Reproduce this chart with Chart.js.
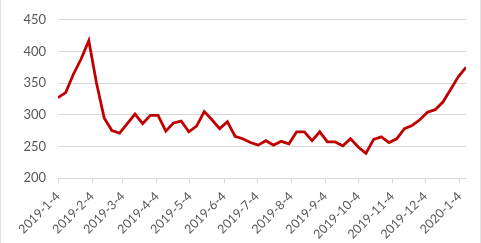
<!DOCTYPE html>
<html>
<head>
<meta charset="utf-8">
<script src="https://cdn.jsdelivr.net/npm/chart.js@4.4.1/dist/chart.umd.min.js"></script>
<style>
  html, body { margin: 0; padding: 0; background: #ffffff; }
  #wrap { position: relative; width: 481px; height: 243px; box-sizing: border-box; border-left: 1px solid #e3e3e3; border-right: 1px solid #e3e3e3; }
  canvas { display: block; }
</style>
</head>
<body>
<div id="wrap"><canvas id="c" width="479" height="243"></canvas></div>
<script>
// Weekly observation dates (Fridays)
const weekDates = [
  "2019-01-04","2019-01-11","2019-01-18","2019-01-25","2019-02-01","2019-02-08","2019-02-15","2019-02-22",
  "2019-03-01","2019-03-08","2019-03-15","2019-03-22","2019-03-29","2019-04-05","2019-04-12","2019-04-19",
  "2019-04-26","2019-05-03","2019-05-10","2019-05-17","2019-05-24","2019-05-31","2019-06-07","2019-06-14",
  "2019-06-21","2019-06-28","2019-07-05","2019-07-12","2019-07-19","2019-07-26","2019-08-02","2019-08-09",
  "2019-08-16","2019-08-23","2019-08-30","2019-09-06","2019-09-13","2019-09-20","2019-09-27","2019-10-04",
  "2019-10-11","2019-10-18","2019-10-25","2019-11-01","2019-11-08","2019-11-15","2019-11-22","2019-11-29",
  "2019-12-06","2019-12-13","2019-12-20","2019-12-27","2020-01-03","2020-01-10"
];
const values = [
  327, 335, 364, 388, 417, 350, 295, 275, 271, 286, 301, 286, 299, 299, 274, 287,
  290, 273, 282, 305, 292, 278, 289, 266, 262, 256, 252, 259, 252, 258, 254, 273,
  273, 259, 273, 257, 257, 251, 262, 249, 239, 261, 265, 256, 262, 278, 283, 292,
  304, 308, 320, 340, 360, 375
];
const tickDates = [
  "2019-01-04","2019-02-04","2019-03-04","2019-04-04","2019-05-04","2019-06-04","2019-07-04",
  "2019-08-04","2019-09-04","2019-10-04","2019-11-04","2019-12-04","2020-01-04"
];
const tickLabels = [
  "2019-1-4","2019-2-4","2019-3-4","2019-4-4","2019-5-4","2019-6-4","2019-7-4",
  "2019-8-4","2019-9-4","2019-10-4","2019-11-4","2019-12-4","2020-1-4"
];
const yTicks = [200, 250, 300, 350, 400, 450];

const DAY = 86400000;
const t0 = Date.UTC(2019, 0, 4);
function dayOf(s) { const p = s.split("-").map(Number); return (Date.UTC(p[0], p[1]-1, p[2]) - t0) / DAY; }
const xs = weekDates.map(dayOf);
const tickDays = tickDates.map(dayOf);
const points = xs.map((x, i) => ({ x: x, y: values[i] }));

const txt = "#595959";
const grid = "#d9d9d9";

new Chart(document.getElementById("c"), {
  type: "line",
  data: { datasets: [{ data: points, borderColor: "#c00000", borderWidth: 2.8, pointRadius: 0, tension: 0, fill: false }] },
  options: {
    responsive: false,
    animation: false,
    layout: { padding: { top: 10, right: 14, left: 0, bottom: 0 } },
    plugins: { legend: { display: false }, tooltip: { enabled: false } },
    scales: {
      x: {
        type: "linear",
        min: xs[0],
        max: xs[xs.length - 1],
        afterBuildTicks: (s) => { s.ticks = tickDays.map(v => ({ value: v })); },
        afterFit: (s) => { s.height = 65; },
        grid: { drawOnChartArea: false, drawTicks: true, tickLength: 5, color: grid },
        border: { display: true, color: grid },
        ticks: {
          autoSkip: false, minRotation: 45, maxRotation: 45, padding: 6,
          color: txt, font: { family: "Lato", size: 12.5 },
          callback: (v, i) => tickLabels[i]
        }
      },
      y: {
        min: 200, max: 450,
        afterBuildTicks: (s) => { s.ticks = yTicks.map(v => ({ value: v })); },
        afterFit: (s) => { s.width = 57; },
        grid: { drawTicks: false, color: grid, lineWidth: 1 },
        border: { display: false },
        ticks: { padding: 12, color: txt, font: { family: "Lato", size: 13 } }
      }
    }
  }
});
</script>
</body>
</html>
